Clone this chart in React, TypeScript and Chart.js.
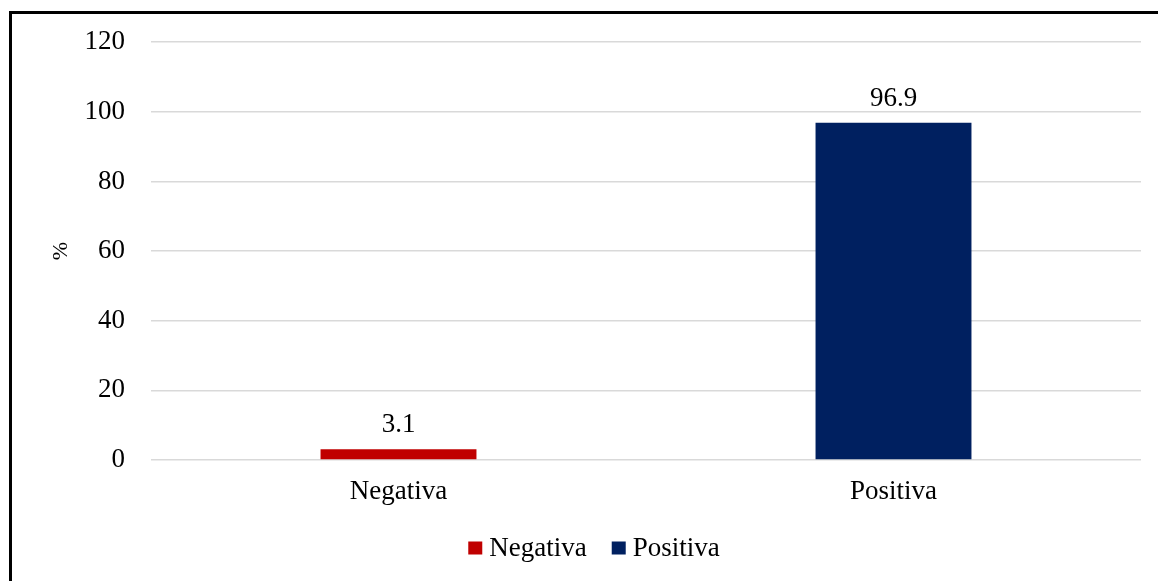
import React, { useEffect, useRef } from "react";
import { Chart, registerables } from "chart.js";

Chart.register(...registerables);

const categories: string[] = ["Negativa", "Positiva"];
const values: number[] = [3.1, 96.9];
const barColors: string[] = ["#C00000", "#002060"];
const yTicks: number[] = [0, 20, 40, 60, 80, 100, 120];
const yAxisTitle = "%";

const FONT = "'Liberation Serif', 'Times New Roman', serif";

const valueLabelPlugin = {
  id: "valueLabels",
  afterDatasetsDraw(chart: any) {
    const ctx = chart.ctx;
    const meta = chart.getDatasetMeta(0);
    ctx.save();
    ctx.font = `27px ${FONT}`;
    ctx.fillStyle = "#000";
    ctx.textAlign = "center";
    ctx.textBaseline = "alphabetic";
    meta.data.forEach((bar: any, i: number) => {
      ctx.fillText(String(values[i]), bar.x, bar.y - 17);
    });
    ctx.restore();
  },
};

const customLegendPlugin = {
  id: "customLegend",
  afterDraw(chart: any) {
    const ctx = chart.ctx;
    ctx.save();
    ctx.font = `27px ${FONT}`;
    ctx.textBaseline = "middle";
    ctx.textAlign = "left";
    const box = 14;
    const gap = 7;
    const spacing = 25;
    const widths = categories.map((c) => ctx.measureText(c).width);
    const total =
      widths.reduce((a, w) => a + box + gap + w, 0) + spacing * (categories.length - 1);
    let x = 594 - total / 2;
    const cy = 548;
    categories.forEach((c, i) => {
      ctx.fillStyle = barColors[i];
      ctx.fillRect(x, cy - 6.5, box, 13);
      ctx.fillStyle = "#000";
      ctx.fillText(c, x + box + gap, cy + 1);
      x += box + gap + widths[i] + spacing;
    });
    ctx.restore();
  },
};

export default function App() {
  const canvasRef = useRef<HTMLCanvasElement | null>(null);

  useEffect(() => {
    if (!canvasRef.current) return;
    const chart = new Chart(canvasRef.current, {
      type: "bar",
      data: {
        labels: categories,
        datasets: [
          {
            label: "Valor",
            data: values,
            backgroundColor: barColors,
            borderWidth: 0,
            barPercentage: 0.315,
            categoryPercentage: 1,
          },
        ],
      },
      options: {
        responsive: false,
        animation: false,
        devicePixelRatio: 1,
        layout: { padding: { left: 0, right: 17, top: 42, bottom: 57 } },
        plugins: {
          legend: { display: false },
          tooltip: { enabled: false },
        },
        scales: {
          x: {
            grid: { display: false, drawTicks: false },
            border: { display: false },
            ticks: {
              color: "#000",
              padding: 16,
              font: { family: FONT, size: 27 },
            },
            afterFit(scale: any) {
              scale.height = 64;
            },
          },
          y: {
            min: 0,
            max: 120,
            afterBuildTicks(scale: any) {
              scale.ticks = yTicks.map((v) => ({ value: v }));
            },
            grid: { color: "#d9d9d9", lineWidth: 1.5, drawTicks: false },
            border: { display: false },
            ticks: {
              color: "#000",
              padding: 26,
              font: { family: FONT, size: 27 },
            },
            title: {
              display: true,
              text: yAxisTitle,
              color: "#000",
              font: { family: FONT, size: 22 },
              padding: { top: 48, bottom: 0 },
            },
            afterFit(scale: any) {
              scale.width = 151;
            },
          },
        },
      },
      plugins: [valueLabelPlugin, customLegendPlugin],
    });
    return () => chart.destroy();
  }, []);

  return (
    <div
      style={{
        position: "fixed",
        left: 0,
        top: 0,
        width: 1158,
        height: 581,
        overflow: "hidden",
        background: "#fff",
      }}
    >
      <div
        style={{
          position: "absolute",
          left: 9,
          top: 11,
          width: 1300,
          height: 700,
          border: "3px solid #000",
          boxSizing: "border-box",
        }}
      />
      <canvas
        ref={canvasRef}
        width={1158}
        height={581}
        style={{ position: "absolute", left: 0, top: 0, width: 1158, height: 581 }}
      />
    </div>
  );
}
